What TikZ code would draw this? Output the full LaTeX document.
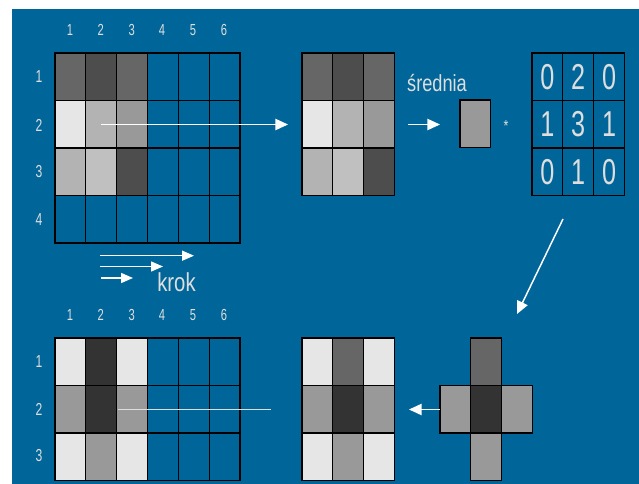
\documentclass[tikz,border=0pt]{standalone}
\usepackage{fontspec}
\setmainfont{Liberation Sans}[FakeStretch=0.78]
\newfontfamily\narrowfont{Liberation Sans}[FakeStretch=0.7]
\usetikzlibrary{arrows.meta}
\definecolor{bg}{RGB}{0,102,153}
\definecolor{lbl}{RGB}{222,222,222}
\definecolor{ga}{RGB}{230,230,230}
\definecolor{gb}{RGB}{179,179,179}
\definecolor{gc}{RGB}{153,153,153}
\definecolor{gd}{RGB}{102,102,102}
\definecolor{ge}{RGB}{77,77,77}
\definecolor{gf}{RGB}{51,51,51}
\definecolor{gg}{RGB}{192,192,192}
\newcommand\mycell[5]{\filldraw[cellst,fill=#5] ({#1+#3*30.83},{#2+#4*47.5}) rectangle ++(30.83,47.5);}
\tikzset{
  cellst/.style={draw=black,line width=0.8pt},
  lab/.style={text=lbl,inner sep=0pt,font=\narrowfont\fontsize{12}{13}\selectfont},
  rlab/.style={text=lbl,inner sep=0pt,font=\narrowfont\fontsize{13}{14}\selectfont},
  kdig/.style={text=lbl,inner sep=0pt,font=\narrowfont\fontsize{27}{29}\selectfont},
  arr/.style={draw=white,line width=1.1pt,-{Triangle[length=9.5pt,width=8.5pt]}},
  sarr/.style={draw=white,line width=1.1pt,-{Triangle[length=9pt,width=7.5pt]}},
}
\begin{document}
\begin{tikzpicture}[x=0.75pt,y=-0.75pt]
\useasboundingbox (0,0) rectangle (639,484);
\fill[white] (0,0) rectangle (639,484);
\fill[bg] (12,9) rectangle (639,484);

% ---- grid 1 (top left) ----
\foreach \c in {0,...,5}{\foreach \r in {0,...,3}{\mycell{55}{53}{\c}{\r}{bg}}}
\mycell{55}{53}{0}{0}{gd}\mycell{55}{53}{1}{0}{ge}\mycell{55}{53}{2}{0}{gd}
\mycell{55}{53}{0}{1}{ga}\mycell{55}{53}{1}{1}{gb}\mycell{55}{53}{2}{1}{gc}
\mycell{55}{53}{0}{2}{gb}\mycell{55}{53}{1}{2}{gg}\mycell{55}{53}{2}{2}{ge}
\foreach \i/\x in {1/70,2/100.7,3/131.7,4/162,5/193,6/224}{\node[lab] (tc\i) at (\x,30) {\i};}
\foreach \i/\y in {1/77,2/125.5,3/172,4/220}{\node[rlab] (tr\i) at (39,\y) {\i};}

% ---- middle 3x3 (top) ----
\mycell{302}{53}{0}{0}{gd}\mycell{302}{53}{1}{0}{ge}\mycell{302}{53}{2}{0}{gd}
\mycell{302}{53}{0}{1}{ga}\mycell{302}{53}{1}{1}{gb}\mycell{302}{53}{2}{1}{gc}
\mycell{302}{53}{0}{2}{gb}\mycell{302}{53}{1}{2}{gg}\mycell{302}{53}{2}{2}{ge}

\node[text=lbl,inner sep=0pt,anchor=base,font=\fontsize{17.5}{19}\selectfont] (sr) at (437,92) {średnia};
\mycell{460}{100}{0}{0}{gc}
\node[text=lbl,inner sep=0pt,font=\fontsize{12}{13}\selectfont] (star) at (506,126) {*};

% ---- kernel ----
\foreach \c in {0,1,2}{\foreach \r in {0,1,2}{\mycell{532}{53}{\c}{\r}{bg}}}
\foreach \c/\r/\v in {0/0/0,1/0/2,2/0/0,0/1/1,1/1/3,2/1/1,0/2/0,1/2/1,2/2/0}{
  \node[kdig] (k\c\r) at ({532+(\c+0.5)*30.83},{53+(\r+0.5)*47.5}) {\v};}

% ---- arrows top ----
\coordinate (a1s) at (101,124.5);
\coordinate (a1e) at (288,124.5);
\draw[arr] (a1s) -- (a1e);
\coordinate (a2s) at (408,124.5);
\coordinate (a2e) at (440,124.5);
\draw[arr] (a2s) -- (a2e);
\coordinate (a3s) at (563,219);
\coordinate (a3e) at (517,314);
\draw[arr] (a3s) -- (a3e);

% ---- krok ----
\coordinate (k1s) at (100,255.7); \coordinate (k1e) at (194,255.7);
\coordinate (k2s) at (100,266.5); \coordinate (k2e) at (163,266.5);
\coordinate (k3s) at (101,278); \coordinate (k3e) at (133,278);
\draw[sarr] (k1s) -- (k1e);
\draw[sarr] (k2s) -- (k2e);
\draw[sarr] (k3s) -- (k3e);
\node[text=lbl,inner sep=0pt,anchor=base,font=\fontsize{19.5}{21}\selectfont] (krok) at (176.5,292) {krok};

% ---- bottom grid ----
\foreach \c in {0,...,5}{\foreach \r in {0,...,2}{\mycell{55}{338}{\c}{\r}{bg}}}
\mycell{55}{338}{0}{0}{ga}\mycell{55}{338}{1}{0}{gf}\mycell{55}{338}{2}{0}{ga}
\mycell{55}{338}{0}{1}{gc}\mycell{55}{338}{1}{1}{gf}\mycell{55}{338}{2}{1}{gc}
\mycell{55}{338}{0}{2}{ga}\mycell{55}{338}{1}{2}{gc}\mycell{55}{338}{2}{2}{ga}
\foreach \i/\x in {1/70,2/100.7,3/131.7,4/162,5/193,6/224}{\node[lab] (bc\i) at (\x,315) {\i};}
\foreach \i/\y in {1/361.5,2/409.5,3/456}{\node[rlab] (br\i) at (39,\y) {\i};}

% ---- bottom middle ----
\mycell{302}{338}{0}{0}{ga}\mycell{302}{338}{1}{0}{gd}\mycell{302}{338}{2}{0}{ga}
\mycell{302}{338}{0}{1}{gc}\mycell{302}{338}{1}{1}{gf}\mycell{302}{338}{2}{1}{gc}
\mycell{302}{338}{0}{2}{ga}\mycell{302}{338}{1}{2}{gc}\mycell{302}{338}{2}{2}{ga}

% ---- cross ----
\mycell{440}{338}{1}{0}{gd}
\mycell{440}{338}{0}{1}{gc}\mycell{440}{338}{1}{1}{gf}\mycell{440}{338}{2}{1}{gc}
\mycell{440}{338}{1}{2}{gc}

% ---- bottom connectors ----
\coordinate (l1s) at (117.5,409.5);
\coordinate (l1e) at (271,409.5);
\draw[draw=lbl,line width=1pt] (l1s) -- (l1e);
\coordinate (a4s) at (440,409.5);
\coordinate (a4e) at (409,409.5);
\draw[arr] (a4s) -- (a4e);
\end{tikzpicture}
\end{document}
